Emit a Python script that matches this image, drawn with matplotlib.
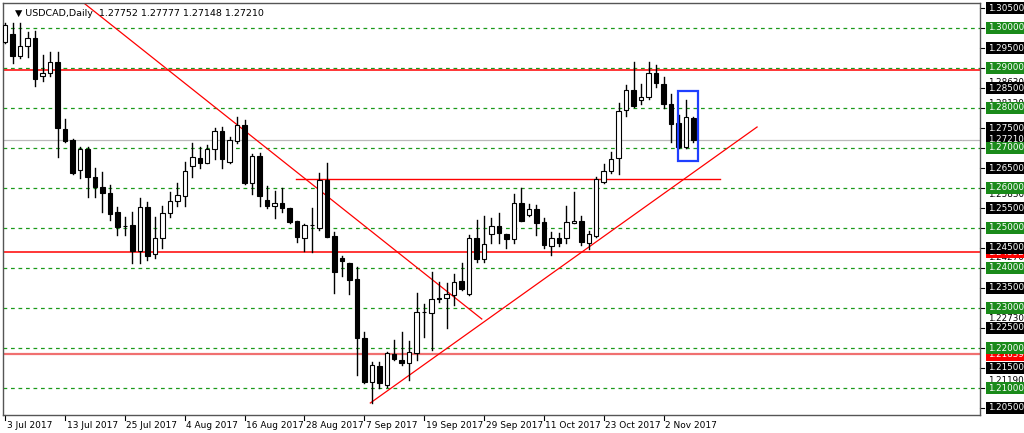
import matplotlib
matplotlib.use("Agg")
import matplotlib.pyplot as plt
import matplotlib.transforms as mtransforms
from matplotlib.patches import Rectangle

opens = [1.2966,1.2984,1.2931,1.2955,1.2976,1.2880,1.2887,1.2914,1.2748,1.2720,1.2645,1.2697,1.2627,1.2603,1.2588,1.2541,1.2506,1.2507,1.2443,1.2552,
 1.2435,1.2474,1.2537,1.2568,1.2581,1.2656,1.2676,1.2662,1.2697,1.2743,1.2666,1.2718,1.2757,1.2612,1.2680,1.2570,1.2556,1.2562,1.2549,1.2518,
 1.2474,1.2507,1.2499,1.2620,1.2480,1.2424,1.2412,1.2372,1.2224,1.2116,1.2155,1.2108,1.2185,1.2170,1.2162,1.2187,1.2289,1.2288,1.2325,1.2324,
 1.2333,1.2368,1.2335,1.2474,1.2422,1.2485,1.2506,1.2484,1.2472,1.2563,1.2532,1.2547,1.2514,1.2455,1.2474,1.2474,1.2513,1.2518,1.2463,1.2480,
 1.2616,1.2643,1.2676,1.2795,1.2845,1.2820,1.2828,1.2887,1.2860,1.2809,1.2762,1.2703,1.2775]
highs = [1.3012,1.3013,1.3013,1.2991,1.2993,1.2933,1.2941,1.2939,1.2773,1.2722,1.2703,1.2703,1.2651,1.2640,1.2607,1.2553,1.2528,1.2541,1.2574,1.2566,
 1.2528,1.2555,1.2591,1.2613,1.2666,1.2713,1.2703,1.2708,1.2749,1.2753,1.2728,1.2778,1.2770,1.2685,1.2688,1.2606,1.2593,1.2599,1.2549,1.2518,
 1.2509,1.2549,1.2637,1.2662,1.2491,1.2430,1.2412,1.2403,1.2241,1.2166,1.2166,1.2191,1.2220,1.2239,1.2218,1.2337,1.2310,1.2391,1.2366,1.2362,
 1.2385,1.2412,1.2483,1.2520,1.2530,1.2524,1.2538,1.2484,1.2585,1.2599,1.2560,1.2558,1.2524,1.2491,1.2487,1.2556,1.2591,1.2530,1.2493,1.2627,
 1.2660,1.2691,1.2813,1.2858,1.2916,1.2860,1.2914,1.2908,1.2877,1.2834,1.2783,1.2820,1.27777]
lows = [1.2962,1.2912,1.2924,1.2928,1.2856,1.2868,1.2881,1.2678,1.2716,1.2635,1.2624,1.2578,1.2578,1.2539,1.2520,1.2482,1.2482,1.2412,1.2412,1.2420,
 1.2424,1.2449,1.2528,1.2556,1.2556,1.2628,1.2649,1.2662,1.2672,1.2649,1.2662,1.2713,1.2610,1.2585,1.2556,1.2551,1.2524,1.2539,1.2512,1.2464,
 1.2443,1.2439,1.2495,1.2478,1.2338,1.2380,1.2335,1.2133,1.2112,1.2063,1.2099,1.2103,1.2170,1.2158,1.2120,1.2170,1.2228,1.2195,1.2316,1.2249,
 1.2308,1.2345,1.2332,1.2416,1.2416,1.2462,1.2462,1.2449,1.2462,1.2518,1.2530,1.2483,1.2449,1.2432,1.2455,1.2463,1.2513,1.2458,1.2447,1.2477,
 1.2613,1.2637,1.2635,1.2780,1.2803,1.2810,1.2822,1.2852,1.2801,1.2716,1.2701,1.2699,1.27148]
closes = [1.3008,1.2931,1.2955,1.2976,1.2873,1.2887,1.2914,1.2749,1.2718,1.2637,1.2697,1.2627,1.2602,1.2587,1.2535,1.2503,1.2505,1.2443,1.2552,1.2430,
 1.2474,1.2538,1.2568,1.2582,1.2642,1.2677,1.2662,1.2698,1.2743,1.2672,1.2720,1.2757,1.2613,1.2680,1.2581,1.2556,1.2562,1.2549,1.2516,1.2478,
 1.2507,1.2508,1.2620,1.2478,1.2391,1.2418,1.2370,1.2224,1.2116,1.2158,1.2112,1.2187,1.2172,1.2162,1.2191,1.2291,1.2291,1.2322,1.2322,1.2335,
 1.2366,1.2347,1.2474,1.2422,1.2460,1.2506,1.2487,1.2472,1.2563,1.2518,1.2547,1.2513,1.2458,1.2474,1.2463,1.2514,1.2518,1.2466,1.2484,1.2623,
 1.2643,1.2672,1.2793,1.2845,1.2805,1.2827,1.2887,1.2862,1.2809,1.2760,1.2703,1.2777,1.27210]

date_labels = ["3 Jul 2017","13 Jul 2017","25 Jul 2017","4 Aug 2017","16 Aug 2017","28 Aug 2017",
               "7 Sep 2017","19 Sep 2017","29 Sep 2017","11 Oct 2017","23 Oct 2017","2 Nov 2017"]
date_idx = [0,8,16,24,32,40,48,56,64,72,80,88]

green_levels = [1.30,1.29,1.28,1.27,1.26,1.25,1.24,1.23,1.22,1.21]
black_levels = [1.305,1.295,1.285,1.275,1.265,1.255,1.245,1.235,1.225,1.215,1.205]
red_levels = [1.2895,1.24392,1.21839]
last_price = 1.27210
down_line = [(10.5,1.30625),(63.7,1.22725)]
up_line = [(48.8,1.20625),(100.5,1.27525)]
short_line = [(38.8,95.6),1.2622]
box = [(89.9,92.6),(1.26683,1.28433)]
extra_labels = [1.28630,1.28120,1.25830,1.24270,1.22730,1.21190]

fig = plt.figure(figsize=(10.24,4.33),dpi=100)
ax = fig.add_axes([3/1024,18/433,977/1024,412/433])
ax.set_xlim(-0.3,130.3)
ax.set_ylim(1.20325,1.30625)
ax.set_xticks([]); ax.set_yticks([])
for s in ax.spines.values():
    s.set_color("#555555"); s.set_linewidth(1)

for g in green_levels:
    ax.axhline(g,color="#1a9a1a",lw=0.9,ls=(0,(3,3)),zorder=1)
ax.axhline(last_price,color="#bbbbbb",lw=0.9,zorder=1)
ax.axhline(red_levels[0],color="red",lw=1.1,zorder=2)
ax.axhline(red_levels[1],color="red",lw=1.1,zorder=2)
ax.axhline(red_levels[2],color="#f07070",lw=1.6,zorder=2)
ax.plot([p[0] for p in down_line],[p[1] for p in down_line],color="red",lw=0.9,zorder=2)
ax.plot([p[0] for p in up_line],[p[1] for p in up_line],color="red",lw=0.9,zorder=2)
ax.plot(short_line[0],[short_line[1]]*2,color="red",lw=1,zorder=2)

w = 0.6
for i,(o,h,l,c) in enumerate(zip(opens,highs,lows,closes)):
    ax.plot([i,i],[l,h],color="black",lw=1,zorder=3)
    lo, hi = min(o,c), max(o,c)
    ax.add_patch(Rectangle((i-w/2,lo),w,max(hi-lo,0.00005),
                 facecolor="black" if c<o else "white",edgecolor="black",lw=0.8,zorder=4))

ax.add_patch(Rectangle((box[0][0],box[1][0]),box[0][1]-box[0][0],box[1][1]-box[1][0],
             fill=False,edgecolor="#1f3fff",lw=1.6,zorder=5))

ax.text(0.012,0.985,"\u25BC USDCAD,Daily  1.27752 1.27777 1.27148 1.27210",transform=ax.transAxes,
        fontsize=6.8,va="top",ha="left",color="black")

trans = mtransforms.blended_transform_factory(ax.transAxes,ax.transData)
xl = 1+8/977
for v in extra_labels:
    ax.text(xl,v,f"{v:.5f}",transform=trans,fontsize=6.3,color="black",va="center",ha="left",clip_on=False)
def boxlab(v,fc):
    ax.text(xl,v,f"{v:.5f}",transform=trans,fontsize=6.3,color="white",va="center",ha="left",clip_on=False,
            bbox=dict(boxstyle="square,pad=0.18",fc=fc,ec="none"))
for v in red_levels[1:]:
    boxlab(v,"red")
for v in black_levels:
    boxlab(v,"black")
boxlab(last_price,"black")
for v in green_levels:
    boxlab(v,"#1a8a1a")
for v in black_levels+green_levels:
    ax.plot([1,1+4/977],[v,v],transform=trans,color="black",lw=0.8,clip_on=False)

transx = mtransforms.blended_transform_factory(ax.transData,ax.transAxes)
for i,lab in zip(date_idx,date_labels):
    ax.plot([i,i],[0,-0.012],transform=transx,color="black",lw=0.8,clip_on=False)
    ax.text(i+0.2,-0.015,lab,transform=transx,fontsize=6.5,va="top",ha="left",clip_on=False)

fig.savefig("out.png",dpi=100)
